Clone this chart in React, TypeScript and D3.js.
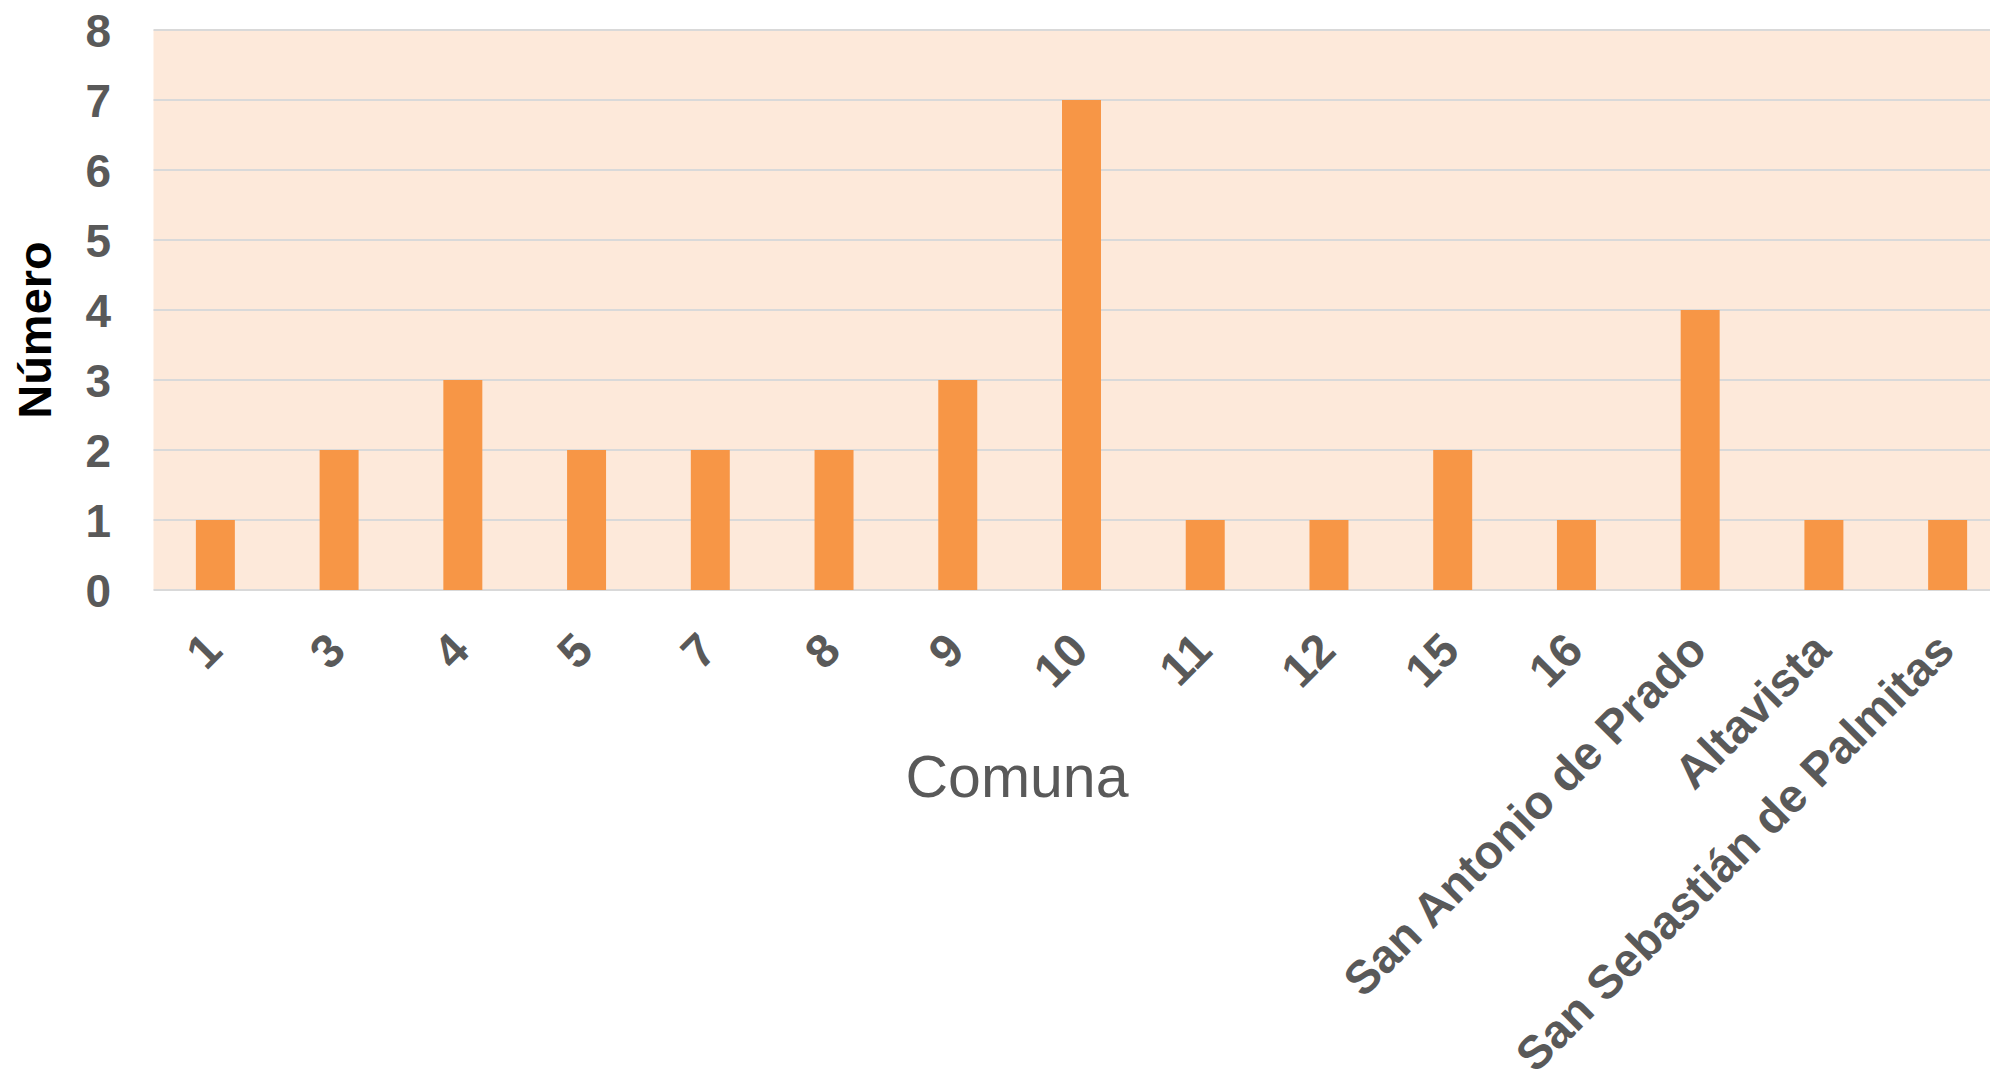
import * as d3 from "d3";

// Chart data
const categories = [
  "1", "3", "4", "5", "7", "8", "9", "10", "11", "12", "15", "16",
  "San Antonio de Prado", "Altavista", "San Sebastián de Palmitas",
];
const values = [1, 2, 3, 2, 2, 2, 3, 7, 1, 1, 2, 1, 4, 1, 1];
const yTicks = [0, 1, 2, 3, 4, 5, 6, 7, 8];
const xTitle = "Comuna";
const yTitle = "Número";

const width = 1990;
const height = 1077;
const margin = { top: 30, left: 153.5, bottom: 590, right: 2009.5 };
const font = "'Liberation Sans', Arial, sans-serif";
const textColor = "#595959";

const App = () => {
  const x = d3.scaleBand<string>().domain(categories).range([margin.left, margin.right]);
  const y = d3.scaleLinear().domain([0, 8]).range([margin.bottom, margin.top]);
  const barW = x.bandwidth() * 0.315;

  return (
    <svg
      width={width}
      height={height}
      style={{ position: "absolute", left: 0, top: 0, background: "#fff" }}
      fontFamily={font}
    >
      {/* plot background */}
      <rect
        x={margin.left}
        y={margin.top}
        width={margin.right - margin.left}
        height={margin.bottom - margin.top}
        fill="#FDE9DA"
      />
      {/* gridlines */}
      {yTicks.map(t => (
        <line
          key={t}
          x1={margin.left}
          x2={margin.right}
          y1={y(t)}
          y2={y(t)}
          stroke="#D9D9D9"
          strokeWidth={2}
        />
      ))}
      {/* bars */}
      {categories.map((c, i) => (
        <rect
          key={c}
          x={(x(c) ?? 0) + x.bandwidth() / 2 - barW / 2}
          y={y(values[i])}
          width={barW}
          height={y(0) - y(values[i])}
          fill="#F79646"
        />
      ))}
      {/* y tick labels */}
      {yTicks.map(t => (
        <text
          key={t}
          x={111}
          y={y(t)}
          dy="0.36em"
          textAnchor="end"
          fontSize={46}
          fontWeight="bold"
          fill={textColor}
        >
          {t}
        </text>
      ))}
      {/* x tick labels */}
      {categories.map(c => {
        const cx = (x(c) ?? 0) + x.bandwidth() / 2 + 9;
        const cy = 653;
        return (
          <text
            key={c}
            transform={`translate(${cx},${cy}) rotate(-45)`}
            textAnchor="end"
            fontSize={47}
            fontWeight="bold"
            fill={textColor}
          >
            {c}
          </text>
        );
      })}
      {/* axis titles */}
      <text x={1017} y={797} textAnchor="middle" fontSize={59} fill={textColor}>
        {xTitle}
      </text>
      <text
        transform={`translate(51,330) rotate(-90)`}
        textAnchor="middle"
        fontSize={47}
        fontWeight="bold"
        fill="#000"
      >
        {yTitle}
      </text>
    </svg>
  );
};

export default App;
